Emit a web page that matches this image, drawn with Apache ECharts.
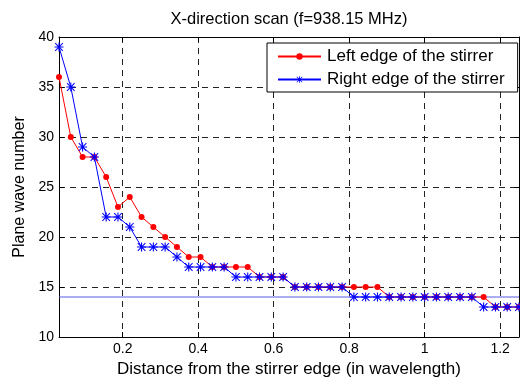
<!DOCTYPE html>
<html>
<head>
<meta charset="utf-8">
<script src="https://cdn.jsdelivr.net/npm/echarts@6/dist/echarts.min.js"></script>
<style>html,body{margin:0;padding:0;background:#fff;}#c{width:520px;height:383px;}</style>
</head>
<body>
<div id="c"></div>
<script>
const distances = [0.03125,0.0625,0.09375,0.125,0.15625,0.1875,0.21875,0.25,0.28125,0.3125,
  0.34375,0.375,0.40625,0.4375,0.46875,0.5,0.53125,0.5625,0.59375,0.625,
  0.65625,0.6875,0.71875,0.75,0.78125,0.8125,0.84375,0.875,0.90625,0.9375,
  0.96875,1.0,1.03125,1.0625,1.09375,1.125,1.15625,1.1875,1.21875,1.25];
const leftEdge = [36,30,28,28,26,23,24,22,21,20,19,18,18,17,17,17,17,16,16,16,
  15,15,15,15,15,15,15,15,14,14,14,14,14,14,14,14,14,13,13,13];
const rightEdge = [39,35,29,28,22,22,21,19,19,19,18,17,17,17,17,16,16,16,16,16,
  15,15,15,15,15,14,14,14,14,14,14,14,14,14,14,14,13,13,13,13];
const refLevel = 14;
const xRange = [0.03125, 1.25];
const yTicks = [10, 15, 20, 25, 30, 35, 40];

const FONT = 'Liberation Sans, Arial, sans-serif';
const asterisk = 'path://M0 4.4H10V5.6H0Z M4.4 0H5.6V10H4.4Z M1.2 0.4L9.6 8.8L8.8 9.6L0.4 1.2Z M8.8 0.4L9.6 1.2L1.2 9.6L0.4 8.8Z';

const chart = echarts.init(document.getElementById('c'), null, {renderer: 'canvas'});
const dash = {color: '#222', width: 1, type: [6, 5]};
chart.setOption({
  animation: false,
  backgroundColor: '#fff',
  title: {
    text: 'X-direction scan (f=938.15 MHz)',
    left: 289, top: 11, textAlign: 'center', padding: 0,
    textStyle: {fontFamily: FONT, fontSize: 16.5, fontWeight: 'normal', color: '#000'}
  },
  legend: {
    orient: 'vertical',
    left: 267, top: 43,
    padding: [5, 13, 4, 10],
    itemGap: 6, itemWidth: 43, itemHeight: 8,
    backgroundColor: '#fff', borderColor: '#000', borderWidth: 1, borderRadius: 0,
    textStyle: {fontFamily: FONT, fontSize: 17, lineHeight: 17, color: '#000', padding: [0, 0, 0, 1]},
    data: ['Left edge of the stirrer', 'Right edge of the stirrer']
  },
  grid: {left: 59, right: 1, top: 37, bottom: 43, containLabel: false},
  xAxis: [{
    type: 'value', min: xRange[0], max: xRange[1], splitNumber: 6,
    name: 'Distance from the stirrer edge (in wavelength)',
    nameLocation: 'middle', nameGap: 24,
    nameTextStyle: {fontFamily: FONT, fontSize: 17, color: '#000'},
    axisLine: {show: true, onZero: false, lineStyle: {color: '#000', width: 1}},
    axisTick: {show: true, inside: true, length: 5, lineStyle: {color: '#000'}},
    axisLabel: {fontFamily: FONT, fontSize: 14, color: '#000', margin: 5, showMinLabel: false, showMaxLabel: false,
      formatter: v => (Math.abs(v / 0.2 - Math.round(v / 0.2)) < 1e-6) ? String(Math.round(v * 10) / 10) : ''},
    splitLine: {show: true, lineStyle: dash}
  }, {
    type: 'value', position: 'top', min: xRange[0], max: xRange[1], splitNumber: 6,
    axisLine: {show: true, onZero: false, lineStyle: {color: '#000', width: 1}},
    axisTick: {show: true, inside: true, length: 5, lineStyle: {color: '#000'}},
    axisLabel: {show: false}, splitLine: {show: false}
  }],
  yAxis: [{
    type: 'value', min: yTicks[0], max: yTicks[yTicks.length - 1], interval: 5,
    name: 'Plane wave number', nameLocation: 'middle', nameGap: 27,
    nameTextStyle: {fontFamily: FONT, fontSize: 16, color: '#000'},
    axisLine: {show: true, onZero: false, lineStyle: {color: '#000', width: 1}},
    axisTick: {show: true, inside: true, length: 5, lineStyle: {color: '#000'}},
    axisLabel: {fontFamily: FONT, fontSize: 14, color: '#000', margin: 5},
    splitLine: {show: true, lineStyle: dash}
  }, {
    type: 'value', position: 'right', min: yTicks[0], max: yTicks[yTicks.length - 1], interval: 5,
    axisLine: {show: true, onZero: false, lineStyle: {color: '#000', width: 1}},
    axisTick: {show: true, inside: true, length: 5, lineStyle: {color: '#000'}},
    axisLabel: {show: false}, splitLine: {show: false}
  }],
  series: [{
    name: 'refline', type: 'line', xAxisIndex: 0, yAxisIndex: 0,
    data: [[xRange[0], refLevel], [xRange[1], refLevel]],
    symbol: 'none', lineStyle: {color: '#5a5ae6', width: 1}, silent: true, z: 1
  }, {
    name: 'Left edge of the stirrer', type: 'line', xAxisIndex: 0, yAxisIndex: 0,
    data: distances.map((d, i) => [d, leftEdge[i]]),
    symbol: 'circle', symbolSize: 6, showAllSymbol: true, clip: false,
    itemStyle: {color: '#ff0000'}, lineStyle: {color: '#ff0000', width: 1}, z: 3
  }, {
    name: 'Right edge of the stirrer', type: 'line', xAxisIndex: 0, yAxisIndex: 0,
    data: distances.map((d, i) => [d, rightEdge[i]]),
    symbol: asterisk, symbolSize: 9, showAllSymbol: true, clip: false,
    itemStyle: {color: '#0000ff'}, lineStyle: {color: '#0000ff', width: 1}, z: 4
  }]
});
</script>
</body>
</html>
